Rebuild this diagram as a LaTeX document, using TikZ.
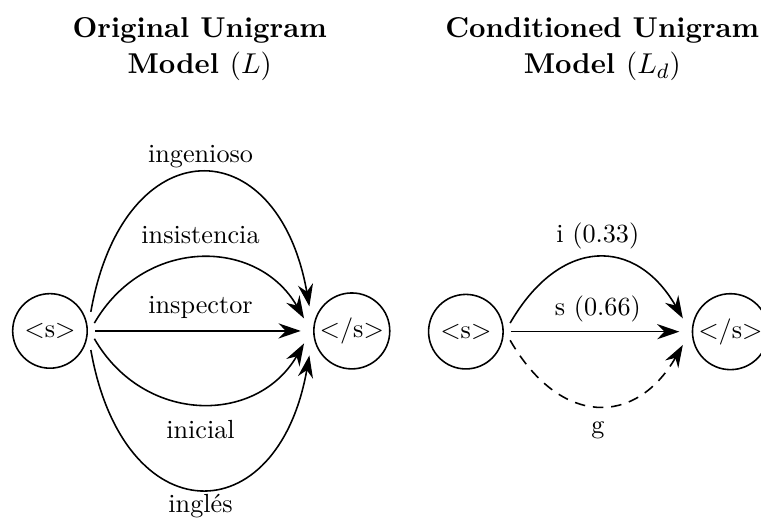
\documentclass[tikz,border=0pt]{standalone}
\usepackage{fontspec}
\usepackage{tikz}
\usetikzlibrary{arrows.meta}

\begin{document}
\begin{tikzpicture}[
  tok/.style={circle, draw, semithick, inner sep=1pt, minimum size=1cm, outer sep=3pt},
  arr/.style={-{Stealth[length=8.5pt,width=5.8pt,inset=2.8pt]}, semithick, shorten >=2pt},
  lbl/.style={text depth=2pt},
  title/.style={align=center, font=\fontsize{10.95}{13.6}\selectfont\bfseries}
]
\useasboundingbox (0,0) rectangle (10.21,6.99);

% original unigram model
\node[title] (t1) at (2.68,6.33) {Original Unigram\\Model $(L)$};
\node[tok] (s1) at (0.67,2.55) {$<$s$>$};
\node[tok] (e1) at (4.72,2.55) {$<$/s$>$};

\draw[arr] (s1.25) to[out=80,in=100,looseness=2.19] node[lbl, above=-1.5pt] (w1) {ingenioso} (e1.155);
\draw[arr] (s1.10) to[out=60,in=120,looseness=1.2] node[lbl, above] (w2) {insistencia} (e1.170);
\draw[arr] (s1) -- node[lbl, above=1pt] (w3) {inspector} (e1);
\draw[arr] (s1.-10) to[out=-60,in=-120,looseness=1.2] node[below=3pt] (w4) {inicial} (e1.-170);
\draw[arr] (s1.-25) to[out=-80,in=-100,looseness=2.19] node[below=-1.5pt] (w5) {ingl\'es} (e1.-155);

% conditioned unigram model
\node[title] (t2) at (8.08,6.33) {Conditioned Unigram\\Model $(L_d)$};
\node[tok] (s2) at (6.25,2.54) {$<$s$>$};
\node[tok] (e2) at (9.80,2.54) {$<$/s$>$};

\draw[arr] (s2.11) to[out=60,in=120,looseness=1.46] node[above] (c1) {i (0.33)} (e2.169);
\draw[arr] (s2) -- node[above] (c2) {s (0.66)} (e2);
\draw[arr, dash pattern=on 4pt off 3pt] (s2.-11) to[out=-60,in=-120,looseness=1.46] node[below=2.5pt] (c3) {g} (e2.-169);

\end{tikzpicture}
\end{document}
